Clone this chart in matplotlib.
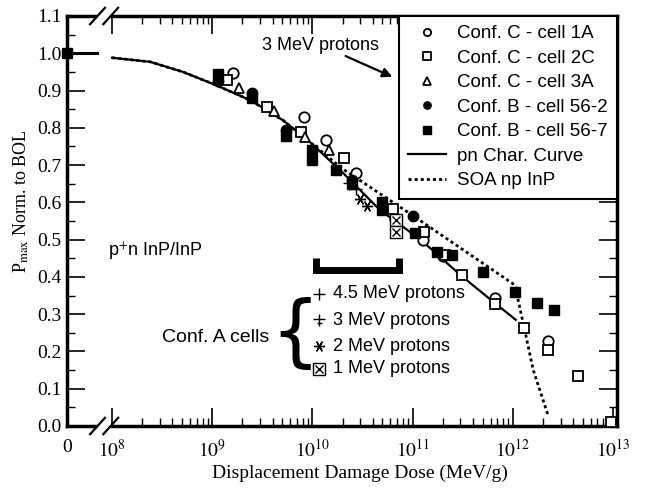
import numpy as np
import matplotlib.pyplot as plt
from matplotlib.path import Path
from matplotlib.ticker import FixedLocator, FixedFormatter

plt.rcParams['font.family'] = 'Liberation Serif'
plt.rcParams['mathtext.fontset'] = 'stix'
SANS = 'Liberation Sans'

# --- data (dose in MeV/g, Pmax normalised to BOL) ---
c1a_x = [1.6e9, 8.3e9, 1.35e10, 2.7e10, 6.6e10, 1.26e11, 2.0e11, 6.6e11, 2.24e12]
c1a_y = [0.946, 0.83, 0.767, 0.68, 0.555, 0.50, 0.455, 0.343, 0.228]

c2c_x = [1.4e9, 3.5e9, 7.6e9, 2.05e10, 6.3e10, 1.29e11, 2.1e11, 3.1e11, 6.6e11,
         1.3e12, 2.24e12, 4.5e12, 9.5e12]
c2c_y = [0.928, 0.855, 0.79, 0.72, 0.582, 0.52, 0.46, 0.405, 0.327,
         0.263, 0.204, 0.134, 0.01]

c3a_x = [1.85e9, 4.1e9, 8.5e9, 1.45e10]
c3a_y = [0.906, 0.845, 0.775, 0.74]

b562_x = [1.15e9, 2.5e9, 5.4e9, 2.5e10, 1.02e11]
b562_y = [0.925, 0.893, 0.793, 0.66, 0.563]

b567_x = [0, 1.15e9, 2.5e9, 5.4e9, 1.0e10, 1.0e10, 1.7e10, 2.5e10, 4.9e10, 5.0e10,
          1.05e11, 1.74e11, 2.5e11, 5.0e11, 1.05e12, 1.74e12, 2.6e12]
b567_y = [1.0, 0.945, 0.88, 0.777, 0.74, 0.715, 0.686, 0.65, 0.60, 0.58,
          0.517, 0.467, 0.458, 0.413, 0.36, 0.33, 0.311]

pn_x = [1e8, 2.4e8, 5.1e8, 1.1e9, 2.4e9, 5.1e9, 9.5e9, 2e10, 4.7e10, 1.2e11,
        3e11, 6.6e11, 1.07e12]
pn_y = [0.988, 0.977, 0.950, 0.914, 0.874, 0.820, 0.761, 0.68, 0.58, 0.50,
        0.405, 0.33, 0.285]

soa_x = [1e8, 2.4e8, 5.1e8, 1.1e9, 2.4e9, 5.1e9, 9.5e9, 2e10, 1e11, 1.05e12,
         1.3e12, 1.6e12, 2.24e12]
soa_y = [0.988, 0.977, 0.950, 0.914, 0.874, 0.820, 0.761, 0.69, 0.565, 0.378,
         0.263, 0.15, 0.03]

a45_x, a45_y = [2.7e10], [0.635]
a3_x, a3_y = [2.3e10], [0.65]
a2_x, a2_y = [3.5e10, 3.0e10], [0.59, 0.61]
a1_x, a1_y = [6.9e10, 6.9e10], [0.552, 0.52]

bol_x = [0, 10**7.85]
bol_y = [1.0, 1.0]

xticks = [0, 1e8, 1e9, 1e10, 1e11, 1e12, 1e13]
xticklabels = ['0', '$10^{8}$', '$10^{9}$', '$10^{10}$', '$10^{11}$', '$10^{12}$', '$10^{13}$']
yticks = np.round(np.arange(0, 1.11, 0.1), 2)

fig = plt.figure(figsize=(6.46, 4.91), dpi=100)
ax = fig.add_axes([67/646, 1-426/491, 550/646, 410/491])

x0 = 10**7.55
ax.set_xscale('function', functions=(lambda x: np.log10(np.maximum(x, x0)),
                                     lambda y: 10**y))
ax.set_xlim(0, 10**13.04)
ax.set_ylim(0, 1.1)

# custom marker for 3 MeV protons
m3 = Path([(0, -1), (0, 1), (-1, 0.15), (1, 0.15), (-0.45, -0.6), (0.45, -0.6)],
          [Path.MOVETO, Path.LINETO] * 3)

# curves
soa_line, = ax.plot(soa_x, soa_y, color='k', ls=(0, (1.1, 1.1)), lw=2.0,
                    label='SOA np InP', zorder=2)
pn_line, = ax.plot(pn_x, pn_y, color='k', lw=1.6, label='pn Char. Curve', zorder=3)
ax.plot(bol_x, bol_y, color='k', lw=2.2, clip_on=False, zorder=3)

ms = 7.5
open_kw = dict(ls='none', mfc='white', mec='k', mew=1.3, ms=ms, zorder=5)
h1, = ax.plot(c1a_x, c1a_y, marker='o', label='Conf. C - cell 1A', **open_kw)
h2, = ax.plot(c2c_x, c2c_y, marker='s', label='Conf. C - cell 2C', **open_kw)
h3, = ax.plot(c3a_x, c3a_y, marker='^', label='Conf. C - cell 3A', **open_kw)
h4, = ax.plot(b562_x, b562_y, marker='o', ls='none', color='k', ms=ms,
              label='Conf. B - cell 56-2', zorder=6)
h5, = ax.plot(b567_x, b567_y, marker='s', ls='none', color='k', ms=ms,
              label='Conf. B - cell 56-7', zorder=6, clip_on=False)

# Conf. A cells
ax.plot(a45_x, a45_y, marker='+', ls='none', color='k', ms=8, mew=1, zorder=5)
ax.plot(a3_x, a3_y, marker=m3, ls='none', color='k', ms=8, mew=1, zorder=5)
ax.plot(a2_x, a2_y, marker=(6, 2, 90), ls='none', color='k', ms=8, mew=1, zorder=5)
ax.plot(a1_x, a1_y, marker='s', ls='none', mfc='white', mec='k', ms=8, mew=1, zorder=5)
ax.plot(a1_x, a1_y, marker='x', ls='none', color='k', ms=6, mew=1, zorder=5)

handles = [h1, h2, h3, h4, h5, pn_line, soa_line]
leg = ax.legend(handles=handles, loc='upper right', bbox_to_anchor=(1, 1),
                borderaxespad=0, fancybox=False, edgecolor='k', framealpha=1,
                prop={'family': SANS, 'size': 13.5}, markerscale=0.7,
                labelspacing=0.39, handlelength=2.0, handletextpad=0.6,
                borderpad=0.5)
leg.get_frame().set_linewidth(1.5)
leg.set_zorder(10)

# ticks
ax.xaxis.set_major_locator(FixedLocator(xticks))
ax.xaxis.set_major_formatter(FixedFormatter(xticklabels))
minors = [k * 10.0**d for d in range(8, 13) for k in range(2, 10)]
ax.xaxis.set_minor_locator(FixedLocator(minors))
ax.set_yticks(yticks)
ax.set_yticklabels(['%.1f' % v for v in yticks])
ax.set_yticks(np.round(np.arange(0.05, 1.1, 0.1), 2), minor=True)
ax.tick_params(which='both', direction='in', top=True, right=True, labelsize=14)
ax.tick_params(axis='y', which='major', length=13, width=1.2, pad=4)
ax.tick_params(axis='y', which='minor', length=6, width=1)
ax.tick_params(axis='x', which='major', length=13, width=1.2, pad=9)
ax.tick_params(axis='x', which='minor', length=6, width=1)
for s in ax.spines.values():
    s.set_linewidth(2.5)

ax.set_xlabel('Displacement Damage Dose (MeV/g)', fontsize=14)
ax.xaxis.set_label_coords(0.533, -0.095)
ax.set_ylabel(r'P$_{\mathrm{max}}$ Norm. to BOL', fontsize=13)
ax.yaxis.set_label_coords(-0.066, 0.549)

# axis break marks
for yb in (0, 1):
    ax.plot([0.055, 0.08], [yb, yb], transform=ax.transAxes, color='white',
            lw=4, clip_on=False, zorder=8, solid_capstyle='butt')
    for xs in (0.042, 0.066):
        ax.plot([xs, xs + 0.027], [yb - 0.02, yb + 0.02], transform=ax.transAxes,
                color='k', lw=1.6, clip_on=False, zorder=9)

# annotations
ax.text(0.46, 0.929, '3 MeV protons', transform=ax.transAxes, family=SANS,
        fontsize=13, ha='center', va='center')
ax.annotate('', xy=(0.596, 0.849), xytext=(0.502, 0.905), xycoords='axes fraction',
            textcoords='axes fraction',
            arrowprops=dict(arrowstyle='-|>', color='k', lw=1.6, mutation_scale=14))
ax.text(0.075, 0.424, 'p$^{+}$n InP/InP', transform=ax.transAxes, family=SANS,
        fontsize=13, ha='left', va='center')

ax.plot([0.453, 0.453, 0.604, 0.604], [0.41, 0.38, 0.38, 0.41], transform=ax.transAxes,
        color='k', lw=5, solid_joinstyle='miter', solid_capstyle='butt')

ax.text(0.173, 0.217, 'Conf. A cells', transform=ax.transAxes, family=SANS,
        fontsize=14, ha='left', va='center')
ax.text(0.415, 0.222, '{', transform=ax.transAxes, family='DejaVu Sans',
        fontsize=56, ha='center', va='center')

lab_y = [0.322, 0.258, 0.195, 0.140]
lab_t = ['4.5 MeV protons', '3 MeV protons', '2 MeV protons', '1 MeV protons']
ax.plot(0.458, lab_y[0], marker='+', color='k', ms=8, mew=1, transform=ax.transAxes)
ax.plot(0.458, lab_y[1], marker=m3, color='k', ms=8, mew=1, transform=ax.transAxes)
ax.plot(0.458, lab_y[2], marker=(6, 2, 90), color='k', ms=8, mew=1, transform=ax.transAxes)
ax.plot(0.458, lab_y[3], marker='s', mfc='white', mec='k', ms=8, mew=1, transform=ax.transAxes)
ax.plot(0.458, lab_y[3], marker='x', color='k', ms=6, mew=1, transform=ax.transAxes)
for yy, tt in zip(lab_y, lab_t):
    ax.text(0.484, yy, tt, transform=ax.transAxes, family=SANS, fontsize=13,
            ha='left', va='center')

fig.savefig('out.png', dpi=100)
